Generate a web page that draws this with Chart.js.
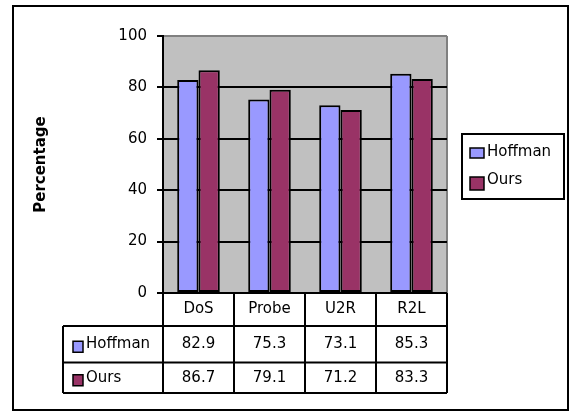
<!DOCTYPE html>
<html>
<head>
<meta charset="utf-8">
<script src="https://cdn.jsdelivr.net/npm/chart.js@4/dist/chart.umd.min.js"></script>
<style>
  html, body { margin: 0; padding: 0; background: #fff; }
  #wrap { width: 570px; height: 412px; position: relative; }
</style>
</head>
<body>
<div id="wrap"><canvas id="chart"></canvas></div>
<script>
// data
const categories = ['DoS', 'Probe', 'U2R', 'R2L'];
const hoffman = [82.9, 75.3, 73.1, 85.3];
const ours = [86.7, 79.1, 71.2, 83.3];
const seriesNames = ['Hoffman', 'Ours'];
const seriesColors = ['#9999FF', '#993366'];

const FONT = 'DejaVu Sans';

// gray plot area + right edge
const plotBg = {
    id: 'plotBg',
    beforeDraw(chart) {
        const { ctx, chartArea: a } = chart;
        ctx.save();
        ctx.fillStyle = '#C0C0C0';
        ctx.fillRect(a.left, a.top, a.right - a.left, a.bottom - a.top);
        ctx.strokeStyle = '#808080';
        ctx.lineWidth = 2;
        ctx.beginPath();
        ctx.moveTo(a.right, a.top);
        ctx.lineTo(a.right, a.bottom);
        ctx.stroke();
        ctx.restore();
    }
};

// data table under the plot, legend box, outer frame
const extras = {
    id: 'extras',
    afterDraw(chart) {
        const { ctx } = chart;
        const x = chart.scales.x;
        const n = categories.length;
        const cw = (x.right - x.left) / n;
        const cols = [];
        for (let i = 0; i <= n; i++) cols.push(x.left + i * cw);
        const tableLeft = 63;
        const rows = [chart.chartArea.bottom, 326, 362.5, 393];
        const series = [hoffman, ours];

        ctx.save();
        ctx.strokeStyle = '#000';
        ctx.lineWidth = 2;
        ctx.beginPath();
        // horizontal lines
        ctx.moveTo(cols[0] - 6, rows[0]); ctx.lineTo(cols[n], rows[0]);
        for (let r = 1; r < rows.length; r++) {
            ctx.moveTo(tableLeft, rows[r]); ctx.lineTo(cols[n], rows[r]);
        }
        // vertical lines
        ctx.moveTo(tableLeft, rows[1]); ctx.lineTo(tableLeft, rows[3]);
        cols.forEach(c => { ctx.moveTo(c, rows[0]); ctx.lineTo(c, rows[3]); });
        ctx.stroke();

        ctx.fillStyle = '#000';
        ctx.font = '15px "' + FONT + '"';
        ctx.textAlign = 'center';
        ctx.textBaseline = 'middle';
        categories.forEach((c, i) => ctx.fillText(c, cols[i] + cw / 2, (rows[0] + rows[1]) / 2));
        series.forEach((vals, s) => {
            const cy = (rows[s + 1] + rows[s + 2]) / 2;
            vals.forEach((v, i) => ctx.fillText(v.toFixed(1), cols[i] + cw / 2, cy));
        });

        // row keys and names
        series.forEach((vals, s) => {
            const cy = (rows[s + 1] + rows[s + 2]) / 2;
            ctx.fillStyle = seriesColors[s];
            ctx.fillRect(73, cy - 3, 10, 11);
            ctx.lineWidth = 1.5;
            ctx.strokeRect(73, cy - 3, 10, 11);
            ctx.fillStyle = '#000';
            ctx.textAlign = 'left';
            ctx.fillText(seriesNames[s], 86, cy);
        });

        // legend box
        ctx.lineWidth = 2;
        ctx.strokeRect(462, 134, 102, 65);
        const legY = [152, 180];
        const legKey = [[148, 10], [177, 13]];
        seriesNames.forEach((name, s) => {
            ctx.fillStyle = seriesColors[s];
            ctx.fillRect(470, legKey[s][0], 14, legKey[s][1]);
            ctx.lineWidth = 1.5;
            ctx.strokeRect(470, legKey[s][0], 14, legKey[s][1]);
            ctx.fillStyle = '#000';
            ctx.textAlign = 'left';
            ctx.fillText(name, 487, legY[s]);
        });

        // outer frame
        ctx.lineWidth = 2;
        ctx.strokeRect(13, 6, 555, 404);
        ctx.restore();
    }
};

new Chart(document.getElementById('chart'), {
    type: 'bar',
    data: {
        labels: categories,
        datasets: [
            {
                label: seriesNames[0],
                data: hoffman,
                backgroundColor: seriesColors[0],
                borderColor: '#000',
                borderWidth: 2,
                borderSkipped: false
            },
            {
                label: seriesNames[1],
                data: ours,
                backgroundColor: seriesColors[1],
                borderColor: '#000',
                borderWidth: 2,
                borderSkipped: false
            }
        ]
    },
    options: {
        responsive: true,
        maintainAspectRatio: false,
        animation: false,
        devicePixelRatio: 1,
        layout: { padding: { left: 28, top: 36, right: 123, bottom: 119 } },
        datasets: { bar: { barPercentage: 1, categoryPercentage: 0.6 } },
        plugins: { legend: { display: false }, tooltip: { enabled: false } },
        scales: {
            x: { display: false },
            y: {
                min: 0,
                max: 100,
                afterFit: (scale) => { scale.width = 135; },
                ticks: {
                    stepSize: 20,
                    padding: 10,
                    color: '#000',
                    font: { family: FONT, size: 15 }
                },
                grid: {
                    color: (c) => c.tick.value === 100 ? '#808080' : (c.tick.value === 0 ? 'rgba(0,0,0,0)' : '#000'),
                    lineWidth: 2,
                    tickLength: 6,
                    tickColor: '#000',
                    tickWidth: 2
                },
                border: { color: '#000', width: 2 },
                title: {
                    display: true,
                    text: 'Percentage',
                    color: '#000',
                    font: { family: FONT, size: 15, weight: 'bold' }
                }
            }
        }
    },
    plugins: [plotBg, extras]
});
</script>
</body>
</html>
